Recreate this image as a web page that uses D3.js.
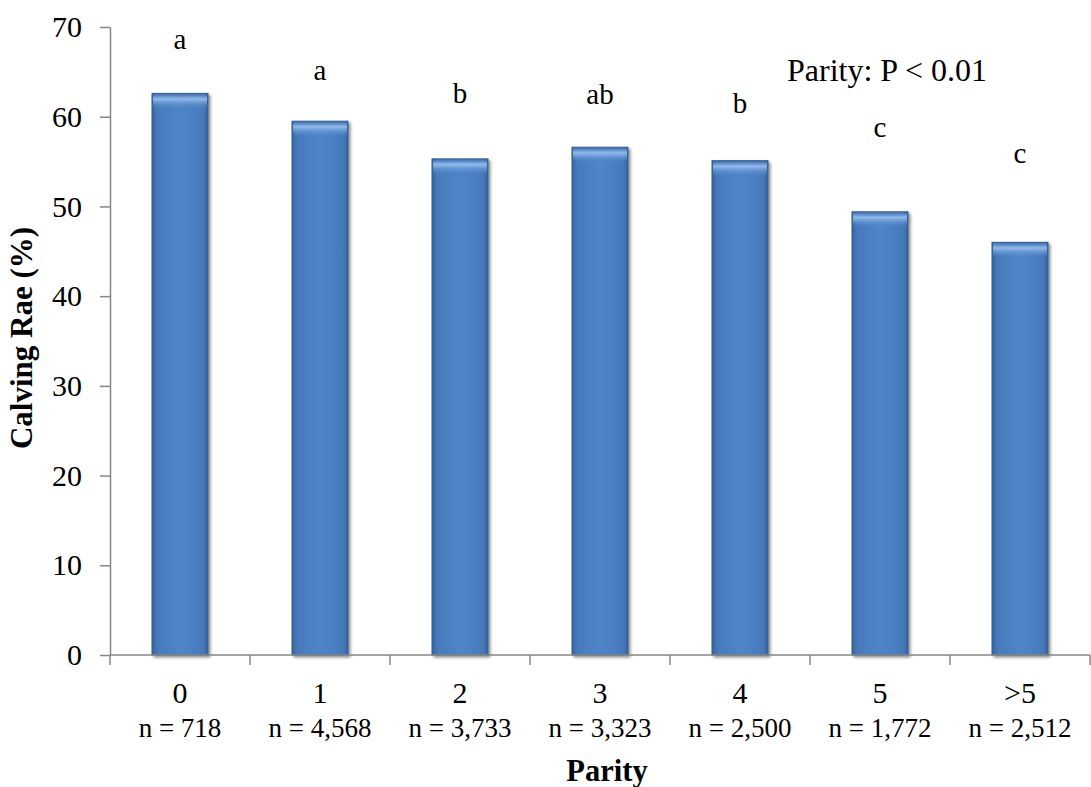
<!DOCTYPE html>
<html>
<head>
<meta charset="utf-8">
<script src="https://cdn.jsdelivr.net/npm/d3@7"></script>
<style>
  html, body { margin: 0; padding: 0; background: #fff; }
  svg { display: block; }
  svg text { font-family: "Liberation Serif", "Times New Roman", Times, "DejaVu Serif", serif !important; fill: #000; }
</style>
</head>
<body>
<svg id="chart" width="1091" height="787"></svg>
<script>
// Calving rate by parity
const parities = ["0", "1", "2", "3", "4", "5", ">5"];
const calvingRate = [62.6, 59.5, 55.3, 56.6, 55.1, 49.4, 46.0];
const counts = ["n = 718", "n = 4,568", "n = 3,733", "n = 3,323", "n = 2,500", "n = 1,772", "n = 2,512"];
const letters = ["a", "a", "b", "ab", "b", "c", "c"];
const letterLevel = [67.6, 64.1, 61.5, 61.4, 60.4, 57.7, 54.8];
const yTicks = [0, 10, 20, 30, 40, 50, 60, 70];

const svg = d3.select("#chart");
const plotLeft = 110, plotRight = 1090, plotTop = 27, plotBottom = 655;

const x = d3.scaleBand().domain(parities).range([plotLeft, plotRight]).paddingInner(0.6).paddingOuter(0.3);
const xEdge = d3.scaleBand().domain(parities).range([plotLeft, plotRight]).padding(0);
const y = d3.scaleLinear().domain([0, 70]).range([plotBottom, plotTop]);

const defs = svg.append("defs");
const body = defs.append("linearGradient").attr("id", "barBody").attr("x1", 0).attr("x2", 1).attr("y1", 0).attr("y2", 0);
body.append("stop").attr("offset", "0%").attr("stop-color", "#37649f");
body.append("stop").attr("offset", "9%").attr("stop-color", "#4779bb");
body.append("stop").attr("offset", "50%").attr("stop-color", "#5086c9");
body.append("stop").attr("offset", "91%").attr("stop-color", "#4779bb");
body.append("stop").attr("offset", "100%").attr("stop-color", "#37649f");

const cap = defs.append("linearGradient").attr("id", "barCap").attr("x1", 0).attr("x2", 0).attr("y1", 0).attr("y2", 1);
cap.append("stop").attr("offset", "0%").attr("stop-color", "#3c6db0").attr("stop-opacity", 1);
cap.append("stop").attr("offset", "35%").attr("stop-color", "#96bdee").attr("stop-opacity", 0.95);
cap.append("stop").attr("offset", "100%").attr("stop-color", "#5086c9").attr("stop-opacity", 0);

const shadow = defs.append("filter").attr("id", "shadow").attr("x", "-20%").attr("y", "-5%").attr("width", "150%").attr("height", "115%");
shadow.append("feGaussianBlur").attr("in", "SourceAlpha").attr("stdDeviation", 1.6).attr("result", "b");
shadow.append("feOffset").attr("in", "b").attr("dx", 1.5).attr("dy", 1.5).attr("result", "o");
shadow.append("feComponentTransfer").attr("in", "o").attr("result", "s")
  .append("feFuncA").attr("type", "linear").attr("slope", 0.45);
const merge = shadow.append("feMerge");
merge.append("feMergeNode").attr("in", "s");
merge.append("feMergeNode").attr("in", "SourceGraphic");

// Bars
const bars = svg.append("g").selectAll("g").data(parities).join("g");
bars.append("rect")
  .attr("x", d => x(d))
  .attr("y", (d, i) => y(calvingRate[i]))
  .attr("width", x.bandwidth())
  .attr("height", (d, i) => plotBottom - y(calvingRate[i]))
  .attr("fill", "url(#barBody)")
  .attr("stroke", "#345c8c")
  .attr("stroke-width", 1)
  .attr("filter", "url(#shadow)");
bars.append("rect")
  .attr("x", d => x(d) + 1)
  .attr("y", (d, i) => y(calvingRate[i]) + 0.5)
  .attr("width", x.bandwidth() - 2)
  .attr("height", 15)
  .attr("rx", 3)
  .attr("fill", "url(#barCap)");

// Axes
const axisColor = "#868686";
const yAxis = svg.append("g").attr("transform", `translate(${plotLeft},0)`)
  .call(d3.axisLeft(y).tickValues(yTicks).tickSize(10).tickSizeOuter(0).tickPadding(18));
yAxis.attr("font-family", null);
yAxis.select(".domain").attr("stroke", axisColor).attr("stroke-width", 1.5);
yAxis.selectAll(".tick line").attr("stroke", axisColor).attr("stroke-width", 1.5);
yAxis.selectAll(".tick text").attr("font-size", 30).attr("fill", "#000");

const xAxis = svg.append("g").attr("transform", `translate(0,${plotBottom})`);
xAxis.append("line").attr("x1", plotLeft).attr("x2", plotRight).attr("y1", 0).attr("y2", 0)
  .attr("stroke", axisColor).attr("stroke-width", 1.5);
xAxis.selectAll("line.tk").data(parities.concat(["end"])).join("line").attr("class", "tk")
  .attr("x1", (d, i) => i < parities.length ? xEdge(d) : plotRight)
  .attr("x2", (d, i) => i < parities.length ? xEdge(d) : plotRight)
  .attr("y1", 0).attr("y2", 10)
  .attr("stroke", axisColor).attr("stroke-width", 1.5);
xAxis.selectAll("text.cat").data(parities).join("text").attr("class", "cat")
  .attr("x", d => x(d) + x.bandwidth() / 2)
  .attr("y", 48)
  .attr("text-anchor", "middle")
  .attr("font-size", 30)
  .text(d => d);
xAxis.selectAll("text.n").data(counts).join("text").attr("class", "n")
  .attr("x", (d, i) => x(parities[i]) + x.bandwidth() / 2)
  .attr("y", 82)
  .attr("text-anchor", "middle")
  .attr("font-size", 27)
  .text(d => d);

// Significance letters
svg.append("g").selectAll("text").data(letters).join("text")
  .attr("x", (d, i) => x(parities[i]) + x.bandwidth() / 2)
  .attr("y", (d, i) => y(letterLevel[i]))
  .attr("text-anchor", "middle")
  .attr("font-size", 29)
  .text(d => d);

svg.append("text")
  .attr("x", 787).attr("y", 81)
  .attr("font-size", 32)
  .text("Parity: P < 0.01");

// Axis titles
svg.append("text")
  .attr("transform", `translate(32,338) rotate(-90)`)
  .attr("text-anchor", "middle")
  .attr("font-size", 31)
  .attr("font-weight", "bold")
  .text("Calving Rae (%)");

svg.append("text")
  .attr("x", 607).attr("y", 781)
  .attr("text-anchor", "middle")
  .attr("font-size", 30.5)
  .attr("font-weight", "bold")
  .text("Parity");
</script>
</body>
</html>
